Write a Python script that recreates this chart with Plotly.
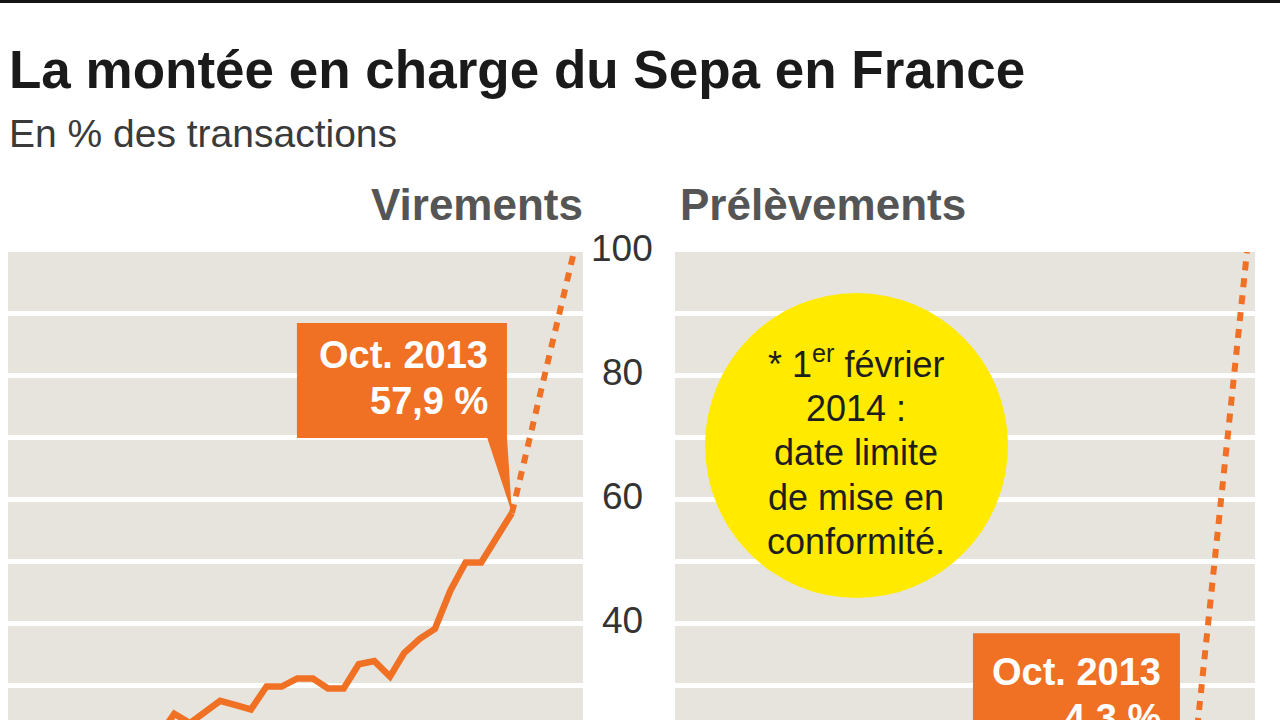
import plotly.graph_objects as go

# ---------------- data ----------------
vir_months = ["2011-11-01", "2011-12-01", "2012-01-01", "2012-02-01", "2012-03-01",
              "2012-04-01", "2012-05-01", "2012-06-01", "2012-07-01", "2012-08-01",
              "2012-09-01", "2012-10-01", "2012-11-01", "2012-12-01", "2013-01-01",
              "2013-02-01", "2013-03-01", "2013-04-01", "2013-05-01", "2013-06-01",
              "2013-07-01", "2013-08-01", "2013-09-01", "2013-10-01"]
vir_values = [22.0, 25.5, 24.0, 25.8, 27.6,
              26.9, 26.2, 29.9, 29.9, 31.2,
              31.2, 29.6, 29.6, 33.5, 34.0,
              31.5, 35.3, 37.6, 39.2, 45.4,
              49.9, 49.9, 54.0, 57.9]

pre_months = ["2013-10-01"]
pre_values = [4.3]

proj_months = ["2013-10-01", "2014-02-01"]
vir_proj = [57.9, 100]
pre_proj = [4.3, 100]

tick_values = [40, 60, 80, 100]

title = "<b>La montée en charge du Sepa en France</b>"
subtitle = "En % des transactions"
panel_titles = ["Virements", "Prélèvements"]
note_lines = ["* 1<sup>er</sup> février", "2014 :", "date limite", "de mise en", "conformité."]
vir_label = ["Oct. 2013", "57,9 %"]
pre_label = ["Oct. 2013", "4,3 %"]

# ---------------- style ----------------
W, H = 1280, 720
ORANGE = "#F07024"
BG = "#E6E4DD"
YELLOW = "#FFEA00"
FONT = "Liberation Sans, Arial, sans-serif"


def px(x):
    return x / W


def py(y):
    return 1 - y / H


fig = go.Figure()

# Virements
fig.add_trace(go.Scatter(x=vir_months, y=vir_values, mode="lines",
                         line=dict(color=ORANGE, width=6.5), xaxis="x", yaxis="y",
                         showlegend=False, hoverinfo="skip"))
fig.add_trace(go.Scatter(x=proj_months, y=vir_proj, mode="lines",
                         line=dict(color=ORANGE, width=6, dash="9px,8px"),
                         xaxis="x", yaxis="y", showlegend=False, hoverinfo="skip"))
# Prélèvements
fig.add_trace(go.Scatter(x=pre_months, y=pre_values, mode="lines",
                         line=dict(color=ORANGE, width=6.5), xaxis="x2", yaxis="y2",
                         showlegend=False, hoverinfo="skip"))
fig.add_trace(go.Scatter(x=proj_months, y=pre_proj, mode="lines",
                         line=dict(color=ORANGE, width=6, dash="9px,8px"),
                         xaxis="x2", yaxis="y2", showlegend=False, hoverinfo="skip"))

ydom = [0, py(252)]
yax = dict(range=[24.5, 100], domain=ydom, showgrid=True, gridcolor="white",
           gridwidth=5, dtick=10, tick0=0, showticklabels=False, zeroline=False,
           showline=False, ticks="")
xax = dict(type="date", showgrid=False, zeroline=False, showticklabels=False,
           showline=False, ticks="")

fig.update_layout(
    width=W, height=H,
    margin=dict(l=0, r=0, t=0, b=0),
    paper_bgcolor="white", plot_bgcolor=BG,
    xaxis=dict(xax, domain=[px(8), px(583)], range=["2011-01-05", "2014-02-19"]),
    yaxis=dict(yax),
    xaxis2=dict(xax, domain=[px(675), px(1255)], range=["2010-12-24", "2014-02-17"],
                anchor="y2"),
    yaxis2=dict(yax, anchor="x2"),
    font=dict(family=FONT),
)

shapes = []
# top rule
shapes.append(dict(type="rect", xref="paper", yref="paper", x0=0, x1=1,
                   y0=py(3), y1=1, fillcolor="#151515", line=dict(width=0)))
# callout Virements (anchored on last data point)
shapes.append(dict(type="rect", xref="x", yref="y", xsizemode="pixel", ysizemode="pixel",
                   xanchor=vir_months[-1], yanchor=vir_values[-1],
                   x0=-215, x1=-5, y0=75, y1=190, fillcolor=ORANGE, line=dict(width=0)))
shapes.append(dict(type="path", xref="x", yref="y", xsizemode="pixel", ysizemode="pixel",
                   xanchor=vir_months[-1], yanchor=vir_values[-1],
                   path="M 0,0 L -25,76 L -5,76 Z", fillcolor=ORANGE, line=dict(width=0)))
# callout Prélèvements
shapes.append(dict(type="rect", xref="x2", yref="y2", xsizemode="pixel", ysizemode="pixel",
                   xanchor=pre_months[-1], yanchor=pre_values[-1],
                   x0=-212, x1=-5, y0=98, y1=212, fillcolor=ORANGE, line=dict(width=0)))
shapes.append(dict(type="path", xref="x2", yref="y2", xsizemode="pixel", ysizemode="pixel",
                   xanchor=pre_months[-1], yanchor=pre_values[-1],
                   path="M 0,0 L -25,99 L -5,99 Z", fillcolor=ORANGE, line=dict(width=0)))
# yellow note circle
shapes.append(dict(type="circle", xref="paper", yref="paper",
                   x0=px(705), x1=px(1008), y0=py(598), y1=py(293),
                   fillcolor=YELLOW, line=dict(width=0)))
fig.update_layout(shapes=shapes)

ann = []
ann.append(dict(text=title, x=px(7), y=py(69), xref="paper", yref="paper",
                xanchor="left", yanchor="middle", showarrow=False,
                font=dict(size=53, color="#1a1a1a", family=FONT)))
ann.append(dict(text=subtitle, x=px(7), y=py(133), xref="paper", yref="paper",
                xanchor="left", yanchor="middle", showarrow=False,
                font=dict(size=39, color="#3a3a3a", family=FONT)))
ann.append(dict(text="<b>%s</b>" % panel_titles[0], x=px(585), y=py(204), xref="paper",
                yref="paper", xanchor="right", yanchor="middle", showarrow=False,
                font=dict(size=44, color="#555555", family=FONT)))
ann.append(dict(text="<b>%s</b>" % panel_titles[1], x=px(678), y=py(204), xref="paper",
                yref="paper", xanchor="left", yanchor="middle", showarrow=False,
                font=dict(size=44, color="#555555", family=FONT)))
for v in tick_values:
    ann.append(dict(text=str(v), x=px(622), y=v, xref="paper", yref="y", yshift=3,
                    xanchor="center", yanchor="middle", showarrow=False,
                    font=dict(size=37, color="#333333", family=FONT)))
for txt, yc in zip(vir_label, [355, 401]):
    ann.append(dict(text="<b>%s</b>" % txt, x=px(490), y=py(yc), xref="paper", yref="paper",
                    xanchor="right", yanchor="middle", showarrow=False,
                    font=dict(size=38, color="white", family=FONT)))
for txt, yc in zip(pre_label, [672, 718]):
    ann.append(dict(text="<b>%s</b>" % txt, x=px(1163), y=py(yc), xref="paper", yref="paper",
                    xanchor="right", yanchor="middle", showarrow=False,
                    font=dict(size=38, color="white", family=FONT)))
for txt, yc in zip(note_lines, [362, 408, 452, 497, 541]):
    ann.append(dict(text=txt, x=px(856), y=py(yc), xref="paper", yref="paper",
                    xanchor="center", yanchor="middle", showarrow=False,
                    font=dict(size=36, color="#1e1e1e", family=FONT)))
fig.update_layout(annotations=ann)

fig.write_html("out.html", config={"displayModeBar": False},
               post_script="document.body.style.margin='0px';")
